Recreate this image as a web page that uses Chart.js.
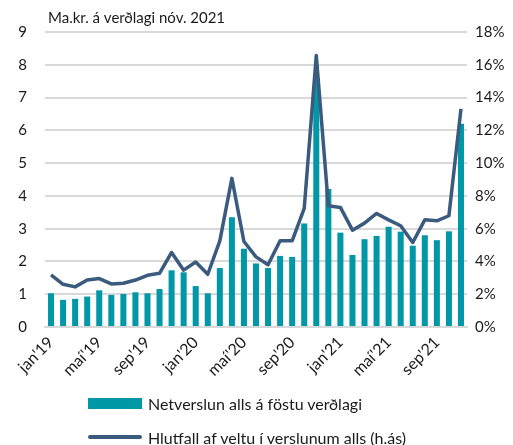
<!DOCTYPE html>
<html>
<head>
<meta charset="utf-8">
<script src="https://cdn.jsdelivr.net/npm/chart.js@4"></script>
<style>
  html, body { margin: 0; padding: 0; background: #fff; }
  #wrap { position: relative; width: 513px; height: 445px; }
  #legend { position: absolute; left: 88px; top: 386px; font-family: Lato, sans-serif; font-size: 16px; color: #1a1a1a; }
  .item { display: flex; align-items: center; height: 34px; }
  .box { width: 54px; height: 11px; background: #0097a7; margin-right: 6px; }
  .ln { width: 54px; height: 4px; background: #3a5a7e; border-radius: 2px; margin-right: 6px; }
</style>
</head>
<body>
<div id="wrap">
  <canvas id="chart" width="513" height="445"></canvas>
  <div id="legend">
    <div class="item"><span class="box"></span>Netverslun alls á föstu verðlagi</div>
    <div class="item"><span class="ln"></span>Hlutfall af veltu í verslunum alls (h.ás)</div>
  </div>
</div>
<script>
// Monthly, jan 2019 - nov 2021
const months = ['jan', 'feb', 'mar', 'apr', 'maí', 'jún', 'júl', 'ágú', 'sep', 'okt', 'nóv', 'des'];
const labels = [];
for (const y of ['19', '20', '21']) {
    for (const m of months) labels.push(m + "'" + y);
}
labels.length = 35;

// Netverslun alls á föstu verðlagi (ma.kr.)
const onlineSales = [
    1.03, 0.83, 0.86, 0.93, 1.12, 0.98, 1.01, 1.06, 1.03, 1.16, 1.73, 1.67,
    1.25, 1.03, 1.80, 3.35, 2.39, 1.94, 1.80, 2.17, 2.14, 3.16, 7.60, 4.21,
    2.88, 2.20, 2.68, 2.78, 3.06, 2.91, 2.48, 2.80, 2.65, 2.92, 6.20
];

// Hlutfall af veltu í verslunum alls (%)
const shareOfTurnover = [
    3.18, 2.61, 2.45, 2.87, 2.96, 2.63, 2.67, 2.87, 3.16, 3.28, 4.55, 3.47,
    3.97, 3.22, 5.26, 9.07, 5.22, 4.28, 3.80, 5.26, 5.26, 7.24, 16.57, 7.40,
    7.30, 5.91, 6.34, 6.93, 6.54, 6.18, 5.16, 6.54, 6.48, 6.79, 13.31
];

const unitLabel = 'Ma.kr. á verðlagi nóv. 2021';

const font = { family: 'Lato, sans-serif', size: 15 };
const textColor = '#1a1a1a';
const gridColor = '#d9d9d9';

const titlePlugin = {
    id: 'unitTitle',
    afterDraw(chart) {
        const { ctx, chartArea } = chart;
        ctx.save();
        ctx.font = '15px Lato, sans-serif';
        ctx.fillStyle = textColor;
        ctx.textBaseline = 'alphabetic';
        ctx.fillText(unitLabel, chartArea.left + 3, chartArea.top - 9);
        ctx.restore();
    }
};

new Chart(document.getElementById('chart'), {
    data: {
        labels: labels,
        datasets: [
            {
                type: 'line',
                label: 'Hlutfall af veltu í verslunum alls (h.ás)',
                data: shareOfTurnover,
                yAxisID: 'y1',
                borderColor: '#3a5a7e',
                borderWidth: 3.5,
                pointRadius: 0,
                tension: 0,
                borderJoinStyle: 'round',
                order: 0,
            },
            {
                type: 'bar',
                label: 'Netverslun alls á föstu verðlagi',
                data: onlineSales,
                yAxisID: 'y',
                backgroundColor: '#0097a7',
                barPercentage: 0.5,
                categoryPercentage: 1,
                order: 1,
            }
        ]
    },
    options: {
        animation: false,
        responsive: false,
        layout: { padding: { top: 32, bottom: 59, left: 0, right: 0 } },
        plugins: {
            legend: { display: false },
            tooltip: { enabled: false },
        },
        scales: {
            x: {
                offset: true,
                grid: { display: false, drawTicks: false },
                border: { color: gridColor, width: 2 },
                ticks: {
                    autoSkip: false,
                    maxRotation: 45,
                    minRotation: 45,
                    padding: 6,
                    color: textColor,
                    font: { family: 'Lato, sans-serif', size: 16 },
                    callback: (v, i) => (i % 4 === 0 ? labels[i] : ''),
                },
            },
            y: {
                position: 'left',
                min: 0,
                max: 9,
                afterFit: (s) => { s.width = 45; },
                grid: { color: gridColor, lineWidth: 2, drawTicks: false },
                border: { display: false },
                ticks: { stepSize: 1, padding: 18, color: textColor, font: font },
            },
            y1: {
                position: 'right',
                min: 0,
                max: 18,
                afterFit: (s) => { s.width = 46; },
                grid: { display: false, drawTicks: false },
                border: { display: false },
                ticks: {
                    stepSize: 2,
                    padding: 8,
                    color: textColor,
                    font: font,
                    callback: (v) => v + '%',
                },
            },
        },
    },
    plugins: [titlePlugin],
});
</script>
</body>
</html>
